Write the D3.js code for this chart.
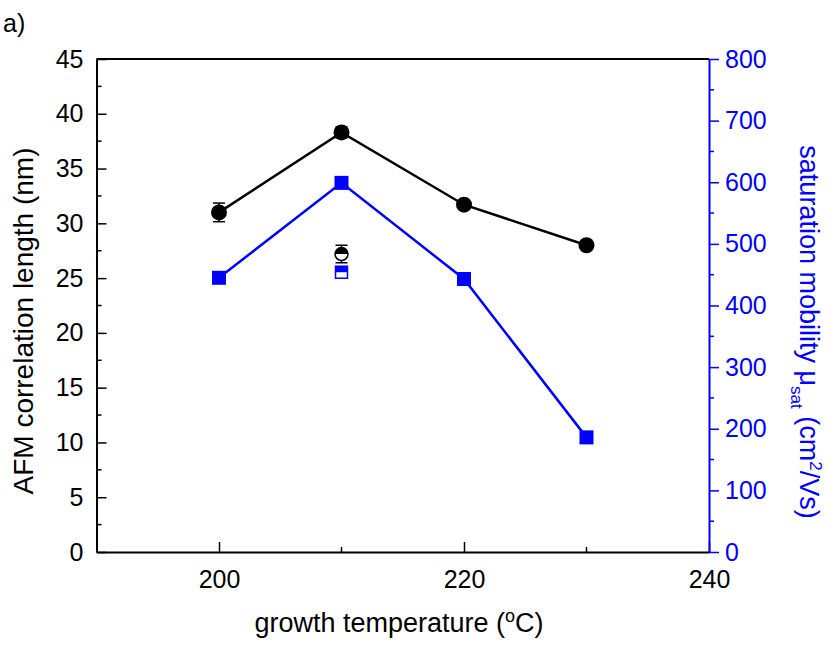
<!DOCTYPE html>
<html>
<head>
<meta charset="utf-8">
<script src="https://cdn.jsdelivr.net/npm/d3@7"></script>
<style>
  body { margin: 0; background: #fff; }
  text { font-family: "Liberation Sans", Arial, sans-serif; }
</style>
</head>
<body>
<div id="chart"></div>
<script>

// growth temperatures (x)
var temps = [200, 210, 220, 230];
// AFM correlation length (nm), left axis
var corrLength = [31.0, 38.3, 31.7, 28.0];
var corrErr = [0.85, 0.5, 0.3, 0.3];
// saturation mobility (cm2/Vs), right axis
var mobility = [445, 599, 443, 186];
// extra half-open points at 210
var extraTemp = [210];
var extraCorr = [27.2];
var extraCorrErr = [0.8];
var extraMob = [454];

var xTicks = [200, 220, 240];
var xMinor = [210, 230];
var yLeftTicks = [0, 5, 10, 15, 20, 25, 30, 35, 40, 45];
var yRightTicks = [0, 100, 200, 300, 400, 500, 600, 700, 800];

var width = 830,
    height = 647;
var margin = {top: 59, right: 121, bottom: 95, left: 96.5};

var svg = d3.select('#chart')
  .append('svg')
  .attr('width', width)
  .attr('height', height);

var x = d3.scaleLinear().domain([190, 240]).range([margin.left, width - margin.right]);
var yL = d3.scaleLinear().domain([0, 45]).range([height - margin.bottom, margin.top]);
var yR = d3.scaleLinear().domain([0, 800]).range([height - margin.bottom, margin.top]);

var blue = '#0000ff';
var tickFont = '25px';

// top frame line
svg.append('line')
  .attr('x1', x(190)).attr('x2', x(240))
  .attr('y1', yL(45)).attr('y2', yL(45))
  .attr('stroke', '#000').attr('stroke-width', 2);

// bottom axis, ticks inward
var xAxis = svg.append('g')
  .attr('transform', 'translate(0,' + yL(0) + ')')
  .call(d3.axisBottom(x).tickValues(xTicks).tickSizeInner(-10).tickSizeOuter(0).tickPadding(18));
xAxis.selectAll('line.minor')
  .data(xMinor).enter().append('line')
  .attr('class', 'minor')
  .attr('x1', function(d) { return x(d); }).attr('x2', function(d) { return x(d); })
  .attr('y1', 0).attr('y2', -5)
  .attr('stroke', '#000').attr('stroke-width', 1.5);

// left axis, ticks inward
var yAxisL = svg.append('g')
  .attr('transform', 'translate(' + x(190) + ',0)')
  .call(d3.axisLeft(yL).tickValues(yLeftTicks).tickSizeInner(-10).tickSizeOuter(0).tickPadding(13));
yAxisL.selectAll('line.minor')
  .data(d3.range(2.5, 45, 5)).enter().append('line')
  .attr('class', 'minor')
  .attr('x1', 0).attr('x2', 5)
  .attr('y1', function(d) { return yL(d); }).attr('y2', function(d) { return yL(d); })
  .attr('stroke', '#000').attr('stroke-width', 1.5);

// right axis, blue, ticks outward
var yAxisR = svg.append('g')
  .attr('transform', 'translate(' + x(240) + ',0)')
  .call(d3.axisRight(yR).tickValues(yRightTicks).tickSizeInner(10).tickSizeOuter(0).tickPadding(6));
yAxisR.selectAll('line.minor')
  .data(d3.range(50, 800, 100)).enter().append('line')
  .attr('class', 'minor')
  .attr('x1', 0).attr('x2', 5)
  .attr('y1', function(d) { return yR(d); }).attr('y2', function(d) { return yR(d); })
  .attr('stroke', blue).attr('stroke-width', 1.5);

[xAxis, yAxisL].forEach(function(g) {
  g.select('.domain').attr('stroke', '#000').attr('stroke-width', 2);
  g.selectAll('.tick line').attr('stroke', '#000').attr('stroke-width', 1.5);
  g.selectAll('.tick text').attr('fill', '#000').style('font-size', tickFont);
});
yAxisR.select('.domain').attr('stroke', blue).attr('stroke-width', 2);
yAxisR.selectAll('.tick line').attr('stroke', blue).attr('stroke-width', 1.5);
yAxisR.selectAll('.tick text').attr('fill', blue).style('font-size', tickFont);

// lines
var lineL = d3.line()
  .x(function(d, i) { return x(temps[i]); })
  .y(function(d) { return yL(d); });
var lineR = d3.line()
  .x(function(d, i) { return x(temps[i]); })
  .y(function(d) { return yR(d); });

svg.append('path')
  .datum(corrLength)
  .attr('d', lineL)
  .attr('fill', 'none').attr('stroke', '#000').attr('stroke-width', 2.5);

svg.append('path')
  .datum(mobility)
  .attr('d', lineR)
  .attr('fill', 'none').attr('stroke', blue).attr('stroke-width', 2.5);

// error bars
var errData = temps.map(function(t, i) { return {t: t, v: corrLength[i], e: corrErr[i]}; })
  .concat(extraTemp.map(function(t, i) { return {t: t, v: extraCorr[i], e: extraCorrErr[i]}; }));

var err = svg.selectAll('g.err')
  .data(errData).enter().append('g')
  .attr('class', 'err')
  .attr('stroke', '#000').attr('stroke-width', 1.5);
err.append('line')
  .attr('x1', function(d) { return x(d.t); }).attr('x2', function(d) { return x(d.t); })
  .attr('y1', function(d) { return yL(d.v - d.e); }).attr('y2', function(d) { return yL(d.v + d.e); });
err.append('line')
  .attr('x1', function(d) { return x(d.t) - 6; }).attr('x2', function(d) { return x(d.t) + 6; })
  .attr('y1', function(d) { return yL(d.v + d.e); }).attr('y2', function(d) { return yL(d.v + d.e); });
err.append('line')
  .attr('x1', function(d) { return x(d.t) - 6; }).attr('x2', function(d) { return x(d.t) + 6; })
  .attr('y1', function(d) { return yL(d.v - d.e); }).attr('y2', function(d) { return yL(d.v - d.e); });

// filled markers
svg.selectAll('circle.corr')
  .data(corrLength).enter().append('circle')
  .attr('class', 'corr')
  .attr('cx', function(d, i) { return x(temps[i]); })
  .attr('cy', function(d) { return yL(d); })
  .attr('r', 8)
  .attr('fill', '#000');

svg.selectAll('rect.mob')
  .data(mobility).enter().append('rect')
  .attr('class', 'mob')
  .attr('x', function(d, i) { return x(temps[i]) - 7; })
  .attr('y', function(d) { return yR(d) - 7; })
  .attr('width', 14).attr('height', 14)
  .attr('fill', blue);

// half-open markers at 210
var r = 6.5;
extraCorr.forEach(function(v, i) {
  var cx = x(extraTemp[i]), cy = yL(v);
  svg.append('circle')
    .attr('cx', cx).attr('cy', cy).attr('r', r)
    .attr('fill', '#fff').attr('stroke', '#000').attr('stroke-width', 1.5);
  svg.append('path')
    .attr('d', d3.arc()({innerRadius: 0, outerRadius: r, startAngle: -Math.PI / 2, endAngle: Math.PI / 2}))
    .attr('transform', 'translate(' + cx + ',' + cy + ')')
    .attr('fill', '#000');
});
extraMob.forEach(function(v, i) {
  var cx = x(extraTemp[i]), cy = yR(v);
  svg.append('rect')
    .attr('x', cx - 6).attr('y', cy - 6).attr('width', 12).attr('height', 12)
    .attr('fill', '#fff').attr('stroke', blue).attr('stroke-width', 1.5);
  svg.append('rect')
    .attr('x', cx - 6).attr('y', cy - 6).attr('width', 12).attr('height', 6)
    .attr('fill', blue);
});

// titles
svg.append('text')
  .attr('x', 3).attr('y', 32)
  .style('font-size', '25px')
  .text('a)');

var xt = svg.append('text')
  .attr('x', 399).attr('y', 632)
  .attr('text-anchor', 'middle')
  .style('font-size', '27px');
xt.append('tspan').text('growth temperature (');
xt.append('tspan').attr('dy', -10).style('font-size', '18px').text('o');
xt.append('tspan').attr('dy', 10).text('C)');

svg.append('text')
  .attr('transform', 'translate(33,321) rotate(-90)')
  .attr('text-anchor', 'middle')
  .style('font-size', '28px')
  .text('AFM correlation length (nm)');

var rt = svg.append('text')
  .attr('transform', 'translate(800,332) rotate(90)')
  .attr('text-anchor', 'middle')
  .attr('fill', blue)
  .style('font-size', '27px');
rt.append('tspan').text('saturation mobility \u03bc');
rt.append('tspan').attr('dy', 9).style('font-size', '17px').text('sat');
rt.append('tspan').attr('dy', -9).text('  (cm');
rt.append('tspan').attr('dy', -10).style('font-size', '17px').text('2');
rt.append('tspan').attr('dy', 10).text('/Vs)');

</script>
</body>
</html>
